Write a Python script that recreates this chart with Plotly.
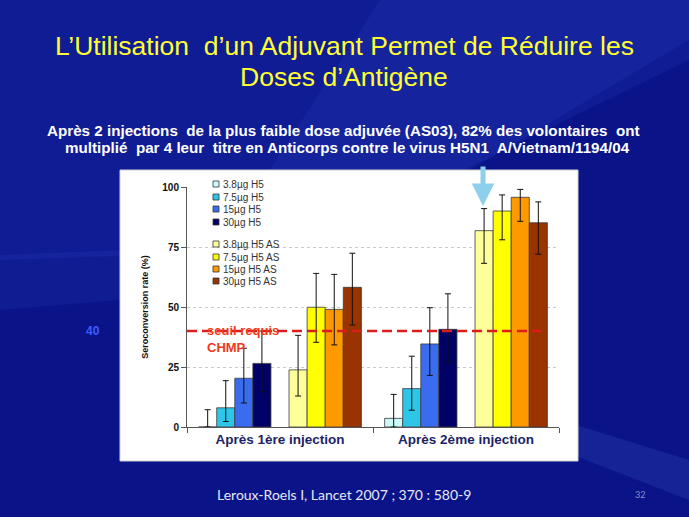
import plotly.graph_objects as go

W, H = 689, 517
L, R, T, B = 187, 559, 187, 427  # plot area pixels

categories = ["Après 1ère injection", "Après 2ème injection"]

series_names = ["3.8µg H5", "7.5µg H5", "15µg H5", "30µg H5",
                "3.8µg H5 AS", "7.5µg H5 AS", "15µg H5 AS", "30µg H5 AS"]
series_colors = ["#ccfafa", "#2ec6e8", "#3a6cf0", "#000066",
                 "#ffff99", "#ffff00", "#ff9900", "#993300"]

# seroconversion rate (%) per series: [after 1st, after 2nd]
values = [
    [0.0, 3.6],
    [8.0, 16.0],
    [20.3, 34.6],
    [26.5, 40.7],
    [23.8, 81.8],
    [49.9, 90.0],
    [49.0, 95.7],
    [58.2, 85.1],
]
ci_low = [
    [0.0, 0.0],
    [2.3, 7.0],
    [10.0, 21.5],
    [14.7, 27.0],
    [12.9, 68.2],
    [35.3, 78.0],
    [34.2, 85.7],
    [42.5, 72.0],
]
ci_high = [
    [7.2, 13.6],
    [19.3, 29.5],
    [32.8, 49.7],
    [40.0, 55.5],
    [38.2, 91.0],
    [64.0, 96.7],
    [63.6, 99.0],
    [72.4, 93.8],
]
threshold = 40
y_ticks = [0, 25, 50, 75, 100]

title_lines = ["L’Utilisation  d’un Adjuvant Permet de Réduire les", "Doses d’Antigène"]
subtitle_lines = ["Après 2 injections  de la plus faible dose adjuvée (AS03), 82% des volontaires  ont",
                  "multiplié  par 4 leur  titre en Anticorps contre le virus H5N1  A/Vietnam/1194/04"]


def px_x(p):
    return (p - L) / (R - L)


def px_y(p):
    return (B - p) / (B - T)


fig = go.Figure()

for i, name in enumerate(series_names):
    if i == 4:
        # empty slot between the non-adjuvanted and adjuvanted groups
        fig.add_trace(go.Bar(x=categories, y=[None, None], showlegend=False,
                             hoverinfo="skip"))
    v = values[i]
    fig.add_trace(go.Bar(
        x=categories, y=v, name=name, showlegend=False,
        marker=dict(color=series_colors[i], line=dict(color="#3a3a3a", width=0.8)),
        error_y=dict(type="data", symmetric=False,
                     array=[h - y for h, y in zip(ci_high[i], v)],
                     arrayminus=[y - l for l, y in zip(ci_low[i], v)],
                     color="#111111", thickness=1, width=3),
    ))

fig.update_layout(
    width=W, height=H,
    margin=dict(l=L, r=W - R, t=T, b=H - B, pad=0),
    paper_bgcolor="#0a1488",
    plot_bgcolor="white",
    barmode="group", bargap=0.125, bargroupgap=0,
    showlegend=False,
    font=dict(family="Liberation Sans, Arial, sans-serif"),
)

fig.update_xaxes(
    type="category", range=[-0.5, 1.5],
    showline=True, linecolor="#555555", linewidth=1,
    ticks="outside", tickson="boundaries", ticklen=5, tickcolor="#555555",
    tickfont=dict(size=13.5, color="#1b2466", family="Liberation Sans, Arial", weight="bold"),
    showgrid=False, fixedrange=True,
)
fig.update_yaxes(
    range=[0, 100], tickvals=y_ticks,
    showline=True, linecolor="#555555", linewidth=1,
    ticks="outside", ticklen=5, tickcolor="#555555",
    tickfont=dict(size=10, color="#111111", family="Liberation Sans, Arial", weight="bold"),
    showgrid=True, gridcolor="#c8c8c8", griddash="dot", gridwidth=1,
    zeroline=False, fixedrange=True,
    title=dict(text="<b>Seroconversion rate (%)</b>", font=dict(size=9, color="#111111"),
               standoff=12),
)


def ppath(pts):
    return "M " + " L ".join(f"{px_x(a):.4f} {px_y(b):.4f}" for a, b in pts) + " Z"


shapes = []
# background: lighter streaks
decor = [
    ([(0, 0), (689, 0), (689, 60), (300, 250), (0, 260)], "#2a48d0", 0.16),
    ([(380, 0), (689, 0), (689, 40), (420, 200), (250, 200)], "#4a6cf0", 0.10),
    ([(0, 255), (120, 250), (120, 300), (0, 310)], "#4a6cf0", 0.10),
    ([(560, 420), (689, 460), (689, 500), (560, 450)], "#5a7cf0", 0.15),
]
for pts, col, op in decor:
    shapes.append(dict(type="path", path=ppath(pts), xref="paper", yref="paper",
                       fillcolor=col, opacity=op, line=dict(width=0), layer="below"))
# white chart panel
shapes.append(dict(type="rect", xref="paper", yref="paper",
                   x0=px_x(120), x1=px_x(578), y0=px_y(461), y1=px_y(170),
                   fillcolor="white", line=dict(color="#d0d0d0", width=1), layer="below"))
# legend background box
shapes.append(dict(type="rect", xref="paper", yref="paper",
                   x0=px_x(209), x1=px_x(294), y0=px_y(290), y1=px_y(178),
                   fillcolor="white", line=dict(width=0), layer="between"))
# threshold line
shapes.append(dict(type="line", xref="paper", yref="y",
                   x0=0, x1=px_x(547), y0=threshold, y1=threshold,
                   line=dict(color="#dd1c1c", width=2.5, dash="10px,5px")))

annotations = []
# custom legend (compact, as in the original chart)
leg_y = [184, 197, 209, 222, 244, 257, 269, 281]
for i, name in enumerate(series_names):
    yy = leg_y[i]
    shapes.append(dict(type="rect", xref="paper", yref="paper",
                       x0=px_x(213), x1=px_x(219), y0=px_y(yy + 3), y1=px_y(yy - 3),
                       fillcolor=series_colors[i], line=dict(color="#333333", width=0.8)))
    annotations.append(dict(text=name, xref="paper", yref="paper",
                            x=px_x(221), y=px_y(yy), xanchor="left", yanchor="middle",
                            showarrow=False, font=dict(size=10, color="#333333")))

for txt, yy in zip(title_lines, [46, 77]):
    annotations.append(dict(text=txt, xref="paper", yref="paper", x=px_x(344), y=px_y(yy),
                            xanchor="center", yanchor="middle", showarrow=False,
                            font=dict(size=26.5, color="#ffff33", family="Liberation Sans, Arial")))
for txt, xx, yy in zip(subtitle_lines, [343, 347], [130, 147]):
    annotations.append(dict(text="<b>" + txt + "</b>", xref="paper", yref="paper",
                            x=px_x(xx), y=px_y(yy), xanchor="center", yanchor="middle",
                            showarrow=False,
                            font=dict(size=15.2, color="white", family="Liberation Sans, Arial")))

annotations += [
    dict(text="<b>seuil requis<br>CHMP</b>", xref="paper", yref="paper",
         x=px_x(205), y=px_y(339), xanchor="left", yanchor="middle", align="left",
         showarrow=False, font=dict(size=13, color="#ee3a1c")),
    dict(text="<b>40</b>", xref="paper", yref="y", x=px_x(93), y=threshold,
         xanchor="center", yanchor="middle", showarrow=False,
         font=dict(size=12, color="#3d5cff")),
    dict(text="Leroux-Roels I, Lancet 2007 ; 370 : 580-9", xref="paper", yref="paper",
         x=px_x(215), y=px_y(494), xanchor="left", yanchor="middle", showarrow=False,
         font=dict(size=14, color="#e8e8f4", family="Lato, Open Sans, sans-serif")),
    dict(text="32", xref="paper", yref="paper", x=px_x(640), y=px_y(494),
         xanchor="center", yanchor="middle", showarrow=False,
         font=dict(size=9, color="#8a90c8", family="Lato, sans-serif")),
    dict(text="", xref="paper", yref="paper", x=px_x(483), y=px_y(206),
         ax=0, ay=-41, showarrow=True, arrowhead=2, arrowsize=0.9,
         arrowwidth=5, arrowcolor="#8cd0ee"),
]

fig.update_layout(shapes=shapes, annotations=annotations)

fig.write_html("out.html", config={"displayModeBar": False},
               post_script="document.body.style.margin='0';document.body.style.overflow='hidden';")
